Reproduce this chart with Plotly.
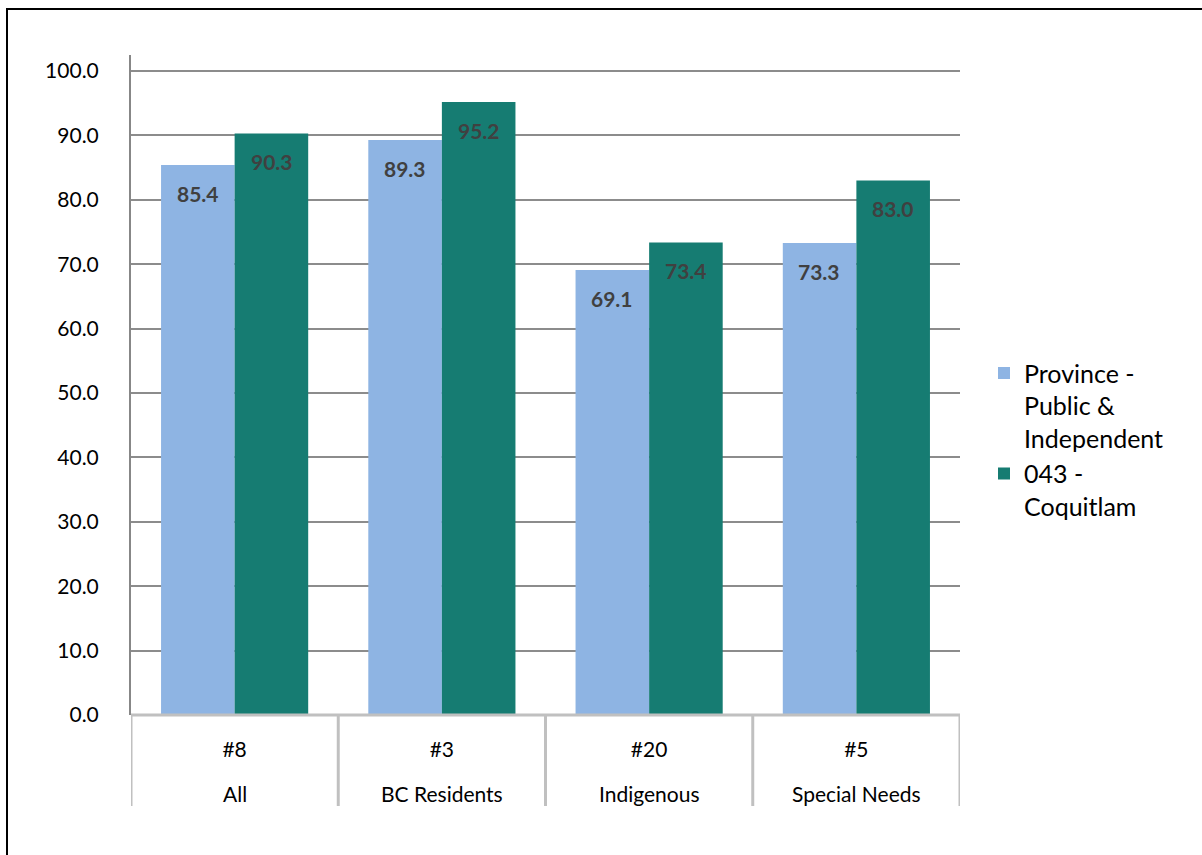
import plotly.graph_objects as go

ranks = ["#8", "#3", "#20", "#5"]
groups = ["All", "BC Residents", "Indigenous", "Special Needs"]
province = [85.4, 89.3, 69.1, 73.3]
coquitlam = [90.3, 95.2, 73.4, 83.0]
series_names = ["Province -<br>Public &<br>Independent", "043 -<br>Coquitlam"]
colors = ["#8EB4E3", "#167C72"]
yticks = [0, 10, 20, 30, 40, 50, 60, 70, 80, 90, 100]

FONT = "Lato"
L, R, T, B = 131, 242, 55, 140
PW, PH = 1202 - L - R, 855 - T - B

fig = go.Figure()
for name, vals, col in zip(series_names, [province, coquitlam], colors):
    fig.add_trace(go.Bar(x=groups, y=vals, name=name, marker=dict(color=col, line=dict(width=0)),
                         hoverinfo="y"))

annotations = []
for i, g in enumerate(groups):
    for vals, shift in [(province, -37), (coquitlam, 37)]:
        annotations.append(dict(x=g, y=vals[i], xref="x", yref="y", text=f"<b>{vals[i]:.1f}</b>",
                                showarrow=False, xshift=shift, yshift=-28,
                                font=dict(family=FONT, size=21, color="#404040")))
    annotations.append(dict(x=g, y=(715 - 793) / PH, xref="x", yref="paper", text=g,
                            showarrow=False, yanchor="middle",
                            font=dict(family=FONT, size=21, color="black")))

shapes = [
    dict(type="rect", xref="paper", yref="paper", x0=(7 - L) / PW, x1=1.4,
         y0=-0.4, y1=(715 - 9) / PH, line=dict(color="black", width=2), layer="below"),
    dict(type="line", xref="x", yref="paper", x0=-0.5, x1=3.5, y0=0, y1=0,
         line=dict(color="#C0C0C0", width=3)),
]
for k in range(5):
    shapes.append(dict(type="line", xref="x", yref="paper", x0=k - 0.5, x1=k - 0.5,
                       y0=0, y1=(715 - 806) / PH, line=dict(color="#C0C0C0", width=3)))

fig.update_layout(
    width=1202, height=855,
    margin=dict(l=L, r=R, t=T, b=B),
    paper_bgcolor="white", plot_bgcolor="white",
    barmode="group", bargap=0.29, bargroupgap=0,
    font=dict(family=FONT, size=17, color="black"),
    showlegend=True,
    legend=dict(x=(984 - L) / PW, y=0.417, xanchor="left", yanchor="middle",
                valign="top",
                font=dict(family=FONT, size=25, color="black"),
                itemwidth=30, tracegroupgap=0, bgcolor="rgba(0,0,0,0)"),
    annotations=annotations,
    shapes=shapes,
    xaxis=dict(showgrid=False, showline=False, zeroline=False, ticks="",
               tickvals=groups, ticktext=ranks,
               tickfont=dict(family=FONT, size=21, color="black"), ticklabelstandoff=20,
               range=[-0.5, 3.5]),
    yaxis=dict(range=[0, 102.5], tickvals=yticks,
               tickformat=".1f", showgrid=True, gridcolor="#8C8C8C", gridwidth=2,
               showline=True, linecolor="#878787", linewidth=2, zeroline=False,
               ticks="", ticklabelstandoff=26,
               tickfont=dict(family=FONT, size=21, color="black")),
)

fig.write_html("out.html")
